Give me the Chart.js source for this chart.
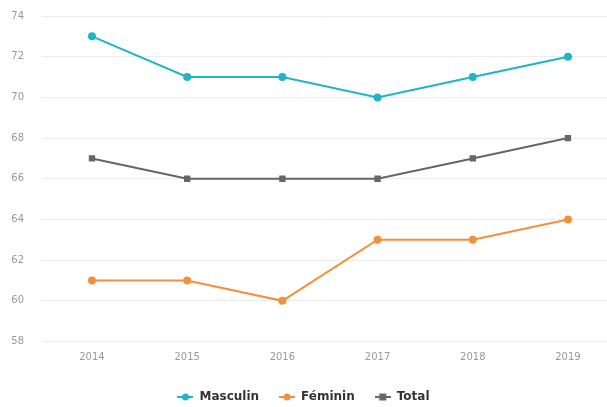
<!DOCTYPE html>
<html>
<head>
<meta charset="utf-8">
<script src="https://cdn.jsdelivr.net/npm/chart.js@4/dist/chart.umd.min.js"></script>
<style>
  html, body { margin: 0; padding: 0; background: #fff; }
  #wrap { width: 607px; height: 407px; }
  canvas { filter: blur(0.4px); }
</style>
</head>
<body>
<div id="wrap"><canvas id="chart" width="607" height="407"></canvas></div>
<script>
const years = [2014, 2015, 2016, 2017, 2018, 2019];
const masculin = [73, 71, 71, 70, 71, 72];
const feminin = [61, 61, 60, 63, 63, 64];
const total = [67, 66, 66, 66, 67, 68];
const yTicks = [58, 60, 62, 64, 66, 68, 70, 72, 74];

const CYAN = '#1fb5c4';
const ORANGE = '#f2913d';
const GREY = '#666666';

const pts = vals => vals.map((v, i) => ({ x: years[i], y: v }));

// line + marker icon used in the legend
function legendIcon(color, square) {
  const c = document.createElement('canvas');
  c.width = 16; c.height = 8;
  const g = c.getContext('2d');
  g.strokeStyle = color;
  g.lineWidth = 2;
  g.beginPath(); g.moveTo(0, 4); g.lineTo(16, 4); g.stroke();
  g.fillStyle = color;
  if (square) {
    g.fillRect(4.5, 0.5, 7, 7);
  } else {
    g.beginPath(); g.arc(8, 4, 3.5, 0, Math.PI * 2); g.fill();
  }
  return c;
}

const series = [
  { label: 'Masculin', data: pts(masculin), color: CYAN, style: 'circle' },
  { label: 'Féminin', data: pts(feminin), color: ORANGE, style: 'circle' },
  { label: 'Total', data: pts(total), color: GREY, style: 'rect' },
];

new Chart(document.getElementById('chart'), {
  type: 'line',
  data: {
    datasets: series.map(s => ({
      label: s.label,
      data: s.data,
      borderColor: s.color,
      backgroundColor: s.color,
      borderWidth: 2,
      pointStyle: s.style,
      pointRadius: s.style === 'rect' ? 4.5 : 4,
      pointBorderWidth: 0,
      tension: 0,
    })),
  },
  options: {
    responsive: false,
    animation: false,
    layout: {
      autoPadding: false,
      padding: { top: 16, right: 0, bottom: -6, left: 0 },
    },
    plugins: {
      tooltip: { enabled: false },
      legend: {
        position: 'bottom',
        labels: {
          usePointStyle: true,
          pointStyleWidth: 16,
          boxHeight: 8,
          padding: 20,
          color: '#333',
          font: { family: 'DejaVu Sans', size: 12, weight: 'bold' },
          generateLabels: chart => chart.data.datasets.map((d, i) => ({
            text: d.label,
            datasetIndex: i,
            pointStyle: legendIcon(d.borderColor, d.pointStyle === 'rect'),
            fillStyle: d.borderColor,
            strokeStyle: d.borderColor,
            lineWidth: 0,
            fontColor: '#333',
          })),
        },
      },
    },
    scales: {
      x: {
        type: 'linear',
        min: 2013.475,
        max: 2019.41,
        grid: { display: false },
        border: { display: false },
        afterBuildTicks: axis => { axis.ticks = years.map(v => ({ value: v })); },
        afterFit: axis => {
          axis.height = 29.5;
          axis.paddingLeft = 0;
          axis.paddingRight = 0;
        },
        ticks: {
          color: '#999',
          padding: 2,
          font: { family: 'DejaVu Sans', size: 10 },
          callback: v => String(v),
        },
      },
      y: {
        min: 58,
        max: 74,
        grid: { color: '#ececec', lineWidth: 1, drawTicks: false },
        border: { display: false },
        afterBuildTicks: axis => { axis.ticks = yTicks.map(v => ({ value: v })); },
        afterFit: axis => {
          axis.width = 42;
          axis.paddingTop = 0;
          axis.paddingBottom = 0;
        },
        ticks: {
          color: '#999',
          padding: 18,
          font: { family: 'DejaVu Sans', size: 10 },
        },
      },
    },
  },
});
</script>
</body>
</html>
